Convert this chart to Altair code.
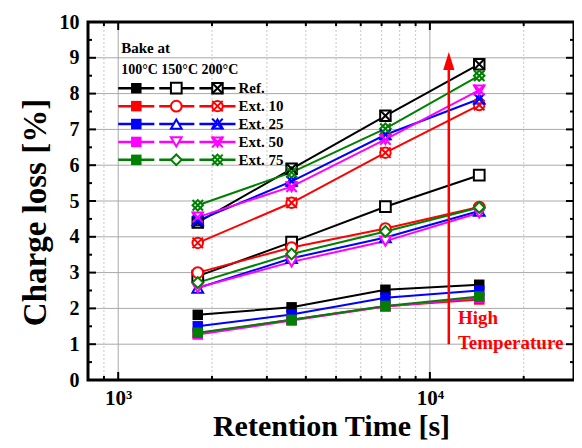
import altair as alt
import pandas as pd

# ---------------- data ----------------
times = [1800, 3600, 7200, 14400]
series = ["Ref.", "Ext. 10", "Ext. 25", "Ext. 50", "Ext. 75"]
colors = ["#000000", "#ff0000", "#0000ff", "#ff00ff", "#008000"]
shapes = ["square", "circle", "triangle-up", "triangle-down", "diamond"]
temps = ["100°C", "150°C", "200°C"]

# 100 °C bake
ref_100 = [1.82, 2.03, 2.52, 2.66]
ext10_100 = [1.30, 1.68, 2.06, 2.25]
ext25_100 = [1.50, 1.83, 2.30, 2.50]
ext50_100 = [1.27, 1.66, 2.05, 2.30]
ext75_100 = [1.32, 1.68, 2.07, 2.33]
# 150 °C bake
ref_150 = [2.90, 3.85, 4.84, 5.72]
ext10_150 = [3.00, 3.70, 4.23, 4.83]
ext25_150 = [2.57, 3.40, 3.98, 4.72]
ext50_150 = [2.58, 3.30, 3.88, 4.67]
ext75_150 = [2.72, 3.52, 4.15, 4.82]
# 200 °C bake
ref_200 = [4.40, 5.90, 7.38, 8.82]
ext10_200 = [3.83, 4.95, 6.35, 7.68]
ext25_200 = [4.45, 5.55, 6.85, 7.85]
ext50_200 = [4.55, 5.40, 6.72, 8.10]
ext75_200 = [4.88, 5.80, 7.02, 8.50]

values = {
    "100°C": [ref_100, ext10_100, ext25_100, ext50_100, ext75_100],
    "150°C": [ref_150, ext10_150, ext25_150, ext50_150, ext75_150],
    "200°C": [ref_200, ext10_200, ext25_200, ext50_200, ext75_200],
}

x_major = [1000, 10000]
x_minor = [900, 2000, 3000, 4000, 5000, 6000, 7000, 8000, 9000, 20000]
y_labels = list(range(11))
y_major = [1, 2, 3, 4, 5, 6, 7, 8, 9]
y_minor = [0.5, 1.5, 2.5, 3.5, 4.5, 5.5, 6.5, 7.5, 8.5, 9.5]

# legend layout (in data units)
leg_rows = [8.15, 7.65, 7.15, 6.65, 6.15]
leg_marker_x = [1143, 1536, 2082]
leg_seg_x1 = [1000, 1354, 1822]
leg_seg_x2 = [1306, 1755, 2378]
leg_label_x = 2413
leg_head_text = "100°C 150°C 200°C"

arrow_x = 11500
arrow_y = [1.0, 8.75]
arrow_head_y = 8.91
high_text = ["High", "Temperature"]
high_text_y = [1.73, 1.03]
high_text_x = 12300

# ---------------- frames ----------------
rows = []
for t in temps:
    for s, vals in zip(series, values[t]):
        for x, y in zip(times, vals):
            rows.append({"x": x, "y": y, "series": s, "temp": t})
df = pd.DataFrame(rows)

leg = []
for i, t in enumerate(temps):
    for s, ry in zip(series, leg_rows):
        leg.append({"x": leg_marker_x[i], "x1": leg_seg_x1[i], "x2": leg_seg_x2[i],
                    "y": ry, "series": s, "temp": t})
leg_df = pd.DataFrame(leg)

W, H = 486, 358
FONT = "Liberation Serif"
xs = alt.Scale(type="log", domain=[800, 29000], nice=False)
ys = alt.Scale(domain=[0, 10], nice=False, zero=False)
cs = alt.Scale(domain=series, range=colors)
ss = alt.Scale(domain=series, range=shapes)
XPATH = "M-1,-1L1,1M1,-1L-1,1"

x_axis = alt.Axis(values=x_major, labelExpr="datum.value == 1000 ? '10³' : '10⁴'",
                  labelFont=FONT, labelFontWeight="bold", labelFontSize=21, labelColor="black",
                  labelPadding=7, labelFlush=False, labelOverlap=False,
                  ticks=False, domain=False, grid=False,
                  title="Retention Time [s]", titleFont=FONT, titleFontSize=30,
                  titleFontWeight="bold", titleColor="black",
                  titleY=55, titleBaseline="alphabetic")
y_axis = alt.Axis(values=y_labels, labelFont=FONT, labelFontWeight="bold",
                  labelFontSize=20, labelColor="black", labelPadding=9, labelOverlap=False,
                  ticks=False, domain=False, grid=False,
                  title="Charge loss [%]", titleFont=FONT, titleFontSize=33,
                  titleFontWeight="bold", titleColor="black", titlePadding=7, titleY=190)


def X(field):
    return alt.X(field, type="quantitative", scale=xs, axis=x_axis)


def Y(field):
    return alt.Y(field, type="quantitative", scale=ys, axis=y_axis)


# grid
gh = alt.Chart(pd.DataFrame({"v": y_major})).mark_rule(color="#a8a8a8", strokeWidth=1).encode(
    y=Y("v"), x=alt.value(0), x2=alt.value(W))
gvM = alt.Chart(pd.DataFrame({"v": x_major})).mark_rule(color="#a8a8a8", strokeWidth=1).encode(
    x=X("v"), y=alt.value(0), y2=alt.value(H))
gvm = alt.Chart(pd.DataFrame({"v": x_minor})).mark_rule(
    color="#c8c8c8", strokeWidth=1, strokeDash=[2, 2]).encode(
    x=X("v"), y=alt.value(0), y2=alt.value(H))

lines = alt.Chart(df).mark_line(strokeWidth=2).encode(
    x=X("x"), y=Y("y"),
    color=alt.Color("series:N", scale=cs, legend=None),
    detail="temp:N")


def point_layers(data, xf):
    p100 = alt.Chart(data).transform_filter(alt.datum.temp == "100°C").mark_point(
        shape="square", filled=True, size=110, opacity=1).encode(
        x=X(xf), y=Y("y"), color=alt.Color("series:N", scale=cs, legend=None))
    p150 = alt.Chart(data).transform_filter(alt.datum.temp == "150°C").mark_point(
        filled=True, fill="white", strokeWidth=2, size=115, opacity=1).encode(
        x=X(xf), y=Y("y"),
        stroke=alt.Stroke("series:N", scale=cs, legend=None),
        shape=alt.Shape("series:N", scale=ss, legend=None))
    p200 = alt.Chart(data).transform_filter(alt.datum.temp == "200°C").mark_point(
        filled=True, fill="white", strokeWidth=2, size=110, opacity=1).encode(
        x=X(xf), y=Y("y"),
        stroke=alt.Stroke("series:N", scale=cs, legend=None),
        shape=alt.Shape("series:N", scale=ss, legend=None))
    p200x = alt.Chart(data).transform_filter(alt.datum.temp == "200°C").mark_point(
        shape=XPATH, filled=False, strokeWidth=2, size=110, opacity=1).encode(
        x=X(xf), y=Y("y"), color=alt.Color("series:N", scale=cs, legend=None))
    return [p100, p150, p200, p200x]


# legend
leg_lines = alt.Chart(leg_df).mark_rule(strokeWidth=2.5).encode(
    x=X("x1"), x2="x2", y=Y("y"), color=alt.Color("series:N", scale=cs, legend=None))
leg_labels = alt.Chart(pd.DataFrame({"x": [leg_label_x] * 5, "y": leg_rows, "t": series})).mark_text(
    align="left", baseline="middle", font=FONT, fontWeight="bold", fontSize=15, color="black", dx=1).encode(
    x=X("x"), y=Y("y"), text="t:N")
leg_head = alt.Chart(pd.DataFrame({"x": [1022], "y": [8.66], "t": [leg_head_text]})).mark_text(
    align="left", baseline="middle", font=FONT, fontWeight="bold", fontSize=14, color="black").encode(
    x=X("x"), y=Y("y"), text="t:N")
bake = alt.Chart(pd.DataFrame({"x": [1022], "y": [9.27], "t": ["Bake at"]})).mark_text(
    align="left", baseline="middle", font=FONT, fontWeight="bold", fontSize=15, color="black").encode(
    x=X("x"), y=Y("y"), text="t:N")

# arrow + annotation
arrow = alt.Chart(pd.DataFrame({"x": [arrow_x], "y": [arrow_y[0]], "y2": [arrow_y[1]]})).mark_rule(
    color="#ff0000", strokeWidth=2.5).encode(x=X("x"), y=Y("y"), y2="y2")
head = alt.Chart(pd.DataFrame({"x": [arrow_x], "y": [arrow_head_y]})).mark_point(
    shape="M0,-1L0.62,1L-0.62,1Z", filled=True, color="#ff0000", size=330, opacity=1).encode(
    x=X("x"), y=Y("y"))
hightxt = alt.Chart(pd.DataFrame({"x": [high_text_x] * 2, "y": high_text_y, "t": high_text})).mark_text(
    align="left", baseline="middle", font=FONT, fontWeight="bold", fontSize=19, color="#ff0000").encode(
    x=X("x"), y=Y("y"), text="t:N")


# inward ticks
def xt(vals, L):
    d = pd.DataFrame({"v": vals})
    b = alt.Chart(d).mark_rule(color="black", strokeWidth=2).encode(x=X("v"), y=alt.value(H), y2=alt.value(H - L))
    t = alt.Chart(d).mark_rule(color="black", strokeWidth=2).encode(x=X("v"), y=alt.value(0), y2=alt.value(L))
    return [b, t]


def yt(vals, L):
    d = pd.DataFrame({"v": vals})
    l = alt.Chart(d).mark_rule(color="black", strokeWidth=2).encode(y=Y("v"), x=alt.value(0), x2=alt.value(L))
    r = alt.Chart(d).mark_rule(color="black", strokeWidth=2).encode(y=Y("v"), x=alt.value(W), x2=alt.value(W - L))
    return [l, r]


layers = ([gh, gvM, gvm, lines]
          + point_layers(df, "x")
          + [leg_lines] + point_layers(leg_df, "x") + [leg_labels, leg_head, bake]
          + [arrow, head, hightxt]
          + xt(x_major, 8) + xt(x_minor, 4) + yt(y_major, 8) + yt(y_minor, 4))

chart = alt.layer(*layers).properties(
    width=W, height=H,
    autosize=alt.AutoSizeParams(type="none"),
    padding={"left": 80, "top": 14, "right": 0, "bottom": 60},
).configure_view(stroke="black", strokeWidth=3)

chart.save("out.html", embed_options={"renderer": "svg", "actions": False})
